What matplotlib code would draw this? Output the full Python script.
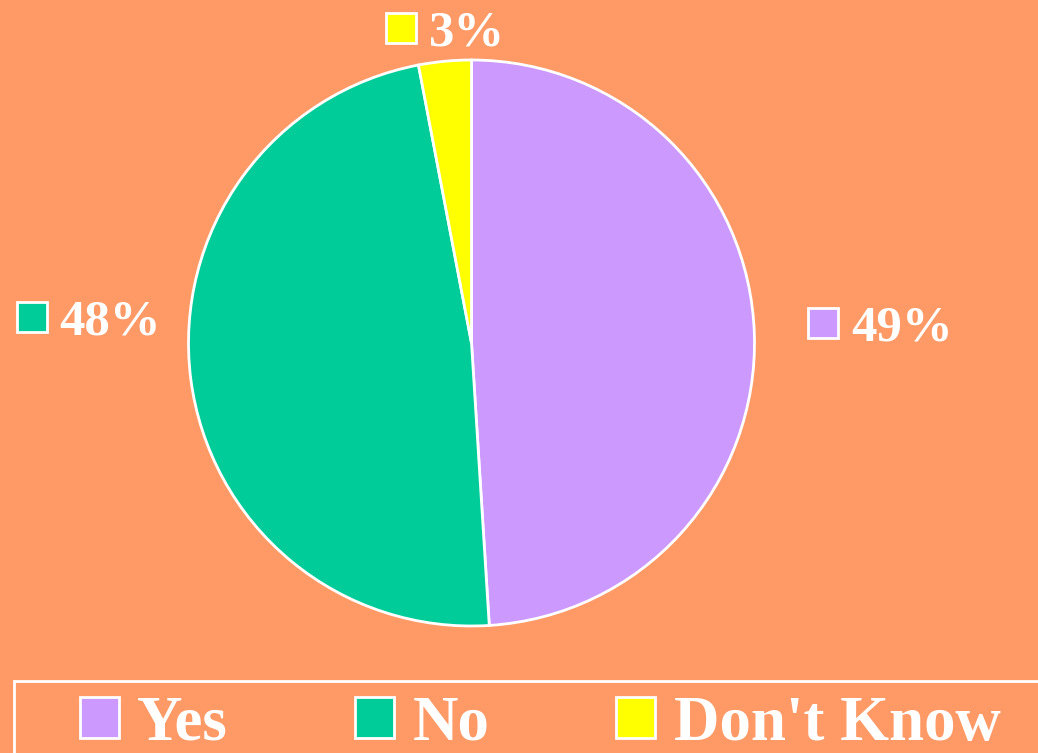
import matplotlib
matplotlib.use('Agg')
import matplotlib.pyplot as plt
from matplotlib.patches import Patch, Rectangle

# Data
categories = ['Yes', 'No', "Don't Know"]
values = [49, 48, 3]
colors = ['#CC99FF', '#00CC99', '#FFFF00']
BG = '#FF9966'

W, H = 1038, 753
fig = plt.figure(figsize=(W / 100, H / 100), dpi=100, facecolor=BG)
ax = fig.add_axes([0, 0, 1, 1])


def py(y):
    # image pixel row -> data y
    return H - y


ax.pie(values, colors=colors, startangle=90, counterclock=False,
       center=(471.5, py(343)), radius=283, frame=True,
       wedgeprops=dict(edgecolor='white', linewidth=2))
ax.set_xlim(0, W)
ax.set_ylim(0, H)
ax.set_aspect('equal')
ax.axis('off')

font = dict(family=['Liberation Serif', 'DejaVu Serif'], weight='bold', color='white')

# percent labels: (square left, square top, text left, baseline)
label_pos = [(808, 308, 851, 340), (17, 302, 59, 334), (386, 13, 429, 45)]
for v, c, (sx, sy, tx, ty) in zip(values, colors, label_pos):
    ax.add_patch(Rectangle((sx, py(sy + 30)), 30, 30, facecolor=c,
                           edgecolor='white', linewidth=2))
    ax.text(tx, py(ty), f'{v}%', fontsize=36.5, ha='left', va='baseline', **font)

# legend frame
ax.add_patch(Rectangle((14, py(760)), 1100, 760 - 681, facecolor='none',
                       edgecolor='white', linewidth=2, clip_on=False))

handles = [Patch(facecolor=c, edgecolor='white', linewidth=2, label=l)
           for c, l in zip(colors, categories)]
leg = ax.legend(handles=handles, ncol=3, loc='upper left',
                bbox_to_anchor=(80 / W, 1 - 696 / H), frameon=False,
                prop=dict(family='Liberation Serif', weight='bold', size=45.3),
                handlelength=0.62, handleheight=0.62, handletextpad=0.29,
                columnspacing=2.02, borderpad=0, borderaxespad=0)
for t in leg.get_texts():
    t.set_color('white')

fig.savefig('out.png', dpi=100, facecolor=BG)
